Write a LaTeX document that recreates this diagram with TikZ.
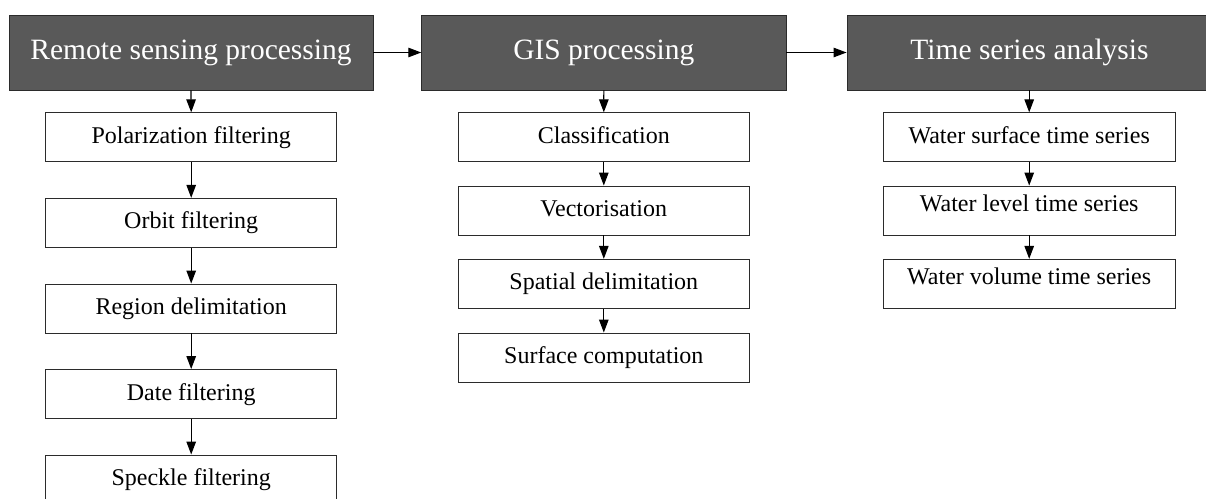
\documentclass[tikz,border=0pt]{standalone}
\usepackage{fontspec}
\setmainfont{Liberation Serif}
\usetikzlibrary{arrows.meta}
\definecolor{hdrgray}{HTML}{595959}
\definecolor{boxline}{HTML}{2B2B2B}
\tikzset{
  hdr/.style={draw=boxline, line width=0.9pt, fill=hdrgray, text=white,
    minimum height=75pt, inner sep=0pt, font=\fontsize{29.5pt}{34pt}\selectfont},
  sub/.style={draw=boxline, line width=0.9pt, fill=white, text=black,
    minimum width=291pt, minimum height=49pt, inner sep=0pt,
    text height=17pt, text depth=5pt,
    font=\fontsize{24pt}{28pt}\selectfont},
  raised/.style={text depth=16pt},
  arr/.style={draw=black, line width=1.2pt, -{Triangle[length=13pt,width=9.5pt]}}
}
\begin{document}
\begin{tikzpicture}[x=1pt,y=-1pt]
\useasboundingbox (0,0) rectangle (1206,498);
% headers
\node[hdr, minimum width=364pt] (h1) at (191,52.5) {Remote sensing processing};
\node[hdr, minimum width=364.3pt] (h2) at (603.85,52.5) {GIS processing};
\node[hdr, minimum width=365pt] (h3) at (1029.5,52.5) {Time series analysis};
% left column
\node[sub] (a1) at (191.2,137.3) {Polarization filtering};
\node[sub] (a2) at (191.2,222.8) {Orbit filtering};
\node[sub] (a3) at (191.2,308.5) {Region delimitation};
\node[sub] (a4) at (191.2,394) {Date filtering};
\node[sub] (a5) at (191.2,479.5) {Speckle filtering};
% middle column
\node[sub] (b1) at (603.8,137.3) {Classification};
\node[sub] (b2) at (603.8,210.5) {Vectorisation};
\node[sub] (b3) at (603.8,283.8) {Spatial delimitation};
\node[sub] (b4) at (603.8,357.5) {Surface computation};
% right column
\node[sub, minimum width=291.7pt] (c1) at (1029.2,137.3) {Water surface time series};
\node[sub, minimum width=291.7pt, raised] (c2) at (1029.2,210.5) {Water level time series};
\node[sub, minimum width=291.7pt, raised] (c3) at (1029.2,283.8) {Water volume time series};
% connectors
\draw[arr] (h1.east) -- (h2.west);
\draw[arr] (h2.east) -- (h3.west);
\draw[arr] (h1.south) -- (a1.north);
\draw[arr] (a1) -- (a2);
\draw[arr] (a2) -- (a3);
\draw[arr] (a3) -- (a4);
\draw[arr] (a4) -- (a5);
\draw[arr] (h2.south) -- (b1.north);
\draw[arr] (b1) -- (b2);
\draw[arr] (b2) -- (b3);
\draw[arr] (b3) -- (b4);
\draw[arr] (c1.north |- h3.south) -- (c1.north);
\draw[arr] (c1) -- (c2);
\draw[arr] (c2) -- (c3);
\end{tikzpicture}
\end{document}
